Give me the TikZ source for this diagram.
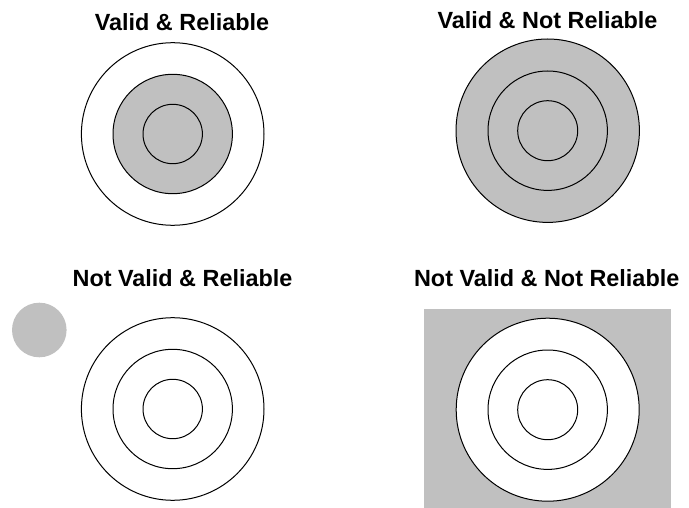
\documentclass[tikz,border=0pt]{standalone}
\usepackage{fontspec}
\setmainfont{Liberation Sans}
\definecolor{silver}{HTML}{C0C0C0}
\begin{document}
\begin{tikzpicture}[x=1pt,y=-1pt,
  ring/.style={circle, draw=black, line width=1pt, inner sep=0pt, minimum size=#1},
  title/.style={anchor=base, font=\bfseries\fontsize{23.4}{28}\selectfont}]
\useasboundingbox (0,0) rectangle (689,508);

% Valid & Reliable
\node[title] (t1) at (182,30.7) {Valid \& Reliable};
\node[ring=182.6, fill=white]  (a1) at (172.7,134) {};
\node[ring=119.4, fill=silver] (a2) at (172.7,134) {};
\node[ring=59.4,  fill=silver] (a3) at (172.7,134) {};

% Valid & Not Reliable
\node[title] (t2) at (547.5,28.3) {Valid \& Not Reliable};
\node[ring=183.4, fill=silver] (b1) at (547.7,130.7) {};
\node[ring=119.4, fill=silver] (b2) at (547.7,130.7) {};
\node[ring=60,    fill=silver] (b3) at (547.7,130.7) {};

% Not Valid & Reliable
\node[title] (t3) at (182.5,286.3) {Not Valid \& Reliable};
\node[circle, fill=silver, inner sep=0pt, minimum size=54.6] (dot) at (39.3,330) {};
\node[ring=182.6] (c1) at (172.7,409) {};
\node[ring=119.4] (c2) at (172.7,409) {};
\node[ring=59.4]  (c3) at (172.7,409) {};

% Not Valid & Not Reliable
\node[title] (t4) at (546.7,286.3) {Not Valid \& Not Reliable};
\fill[silver] (423.7,309) rectangle (670.7,508);
\node[ring=183, fill=white] (d1) at (547.7,409.7) {};
\node[ring=119.4, fill=white] (d2) at (547.7,409.7) {};
\node[ring=60, fill=white]  (d3) at (547.7,409.7) {};
\end{tikzpicture}
\end{document}
